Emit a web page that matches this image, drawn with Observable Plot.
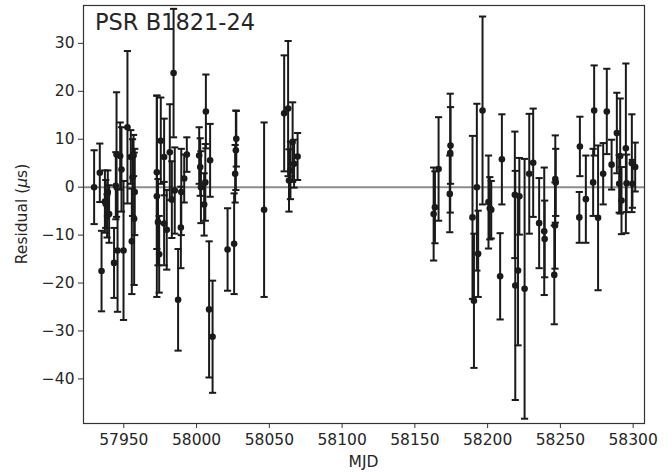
<!DOCTYPE html>
<html>
<head>
<meta charset="utf-8">
<script src="https://cdn.jsdelivr.net/npm/d3@7"></script>
<script src="https://cdn.jsdelivr.net/npm/@observablehq/plot@0.6"></script>
<style>
  html, body { margin: 0; padding: 0; background: #fff; }
  #chart { width: 672px; height: 472px; }
</style>
</head>
<body>
<div id="chart"></div>
<script>
const title = "PSR B1821-24";
const xLabel = "MJD";
const xTicks = [57950, 58000, 58050, 58100, 58150, 58200, 58250, 58300];
const yTicks = [-40, -30, -20, -10, 0, 10, 20, 30];

const mjd = [
  57929.6, 57933.5, 57934.7, 57937.0, 57937.6, 57938.5, 57939.0, 57939.9, 57943.3, 57944.5,
  57945.0, 57945.7, 57947.5, 57948.4, 57949.8, 57952.5, 57954.8, 57955.5, 57956.0, 57956.7,
  57957.1, 57957.5,
  57972.7, 57972.7, 57974.3, 57973.5, 57975.4, 57977.7, 57977.7, 57979.5, 57981.6, 57984.2,
  57983.0, 57985.0, 57987.3, 57989.2, 57989.5, 57991.5, 57993.3, 58001.8, 58002.5, 58003.0,
  58005.2, 58006.4, 58006.0, 58008.6, 58009.3, 58011.0,
  58021.3, 58025.8, 58026.5, 58027.0, 58027.3,
  58046.4,
  58060.2, 58062.9, 58063.5, 58064.5, 58066.0, 58067.0, 58069.4,
  58162.9, 58163.8, 58166.3, 58174.0, 58174.3, 58174.5,
  58189.6, 58190.6, 58192.6, 58193.5, 58196.5, 58200.6, 58201.5, 58202.5, 58208.6, 58209.8,
  58218.7, 58219.0, 58220.9, 58221.8, 58225.4, 58228.6, 58231.3, 58235.4, 58238.9, 58239.2,
  58245.8, 58246.3, 58246.5, 58246.8,
  58263.0, 58263.4, 58267.5, 58272.5, 58273.2, 58275.9, 58279.4, 58281.9, 58285.2, 58288.8,
  58290.4, 58291.1, 58292.0, 58295.0, 58295.5, 58299.1, 58299.5, 58301.4
];
const residual = [
  0.0, 3.0, -17.5, -3.0, -3.5, -6.0, -1.0, -5.6, -15.8, 0.3,
  6.8, -13.2, 6.5, 3.7, -13.2, 12.5, 6.3, -11.3, 2.0, 6.6,
  -6.6, -1.0,
  3.1, -1.9, -14.0, -7.3, 9.7, 6.3, -7.6, -8.9, 7.3, 23.8,
  -2.6, -0.7, -23.5, -8.4, -1.0, 1.8, 6.8, 6.6, 4.2, 0.0,
  -3.6, 15.8, 1.0, -25.5, 5.6, -31.2,
  -13.0, -11.8, 2.8, 7.7, 10.1,
  -4.7,
  15.4, 16.4, 1.4, 3.5, 9.4, 4.9, 6.4,
  -5.6, -4.2, 3.8, -1.4, 7.1, 8.7,
  -6.3, -23.7, 0.0, -13.9, 16.0, -3.1, -4.4, -4.7, -18.6, 5.8,
  -1.6, -20.5, -17.4, -1.9, -21.2, 2.8, 5.1, -7.5, -9.2, -10.8,
  -18.3, -8.0, 1.7, 1.0,
  -6.3, 8.5, -2.5, 1.0, 16.0, -6.4, 2.8, 15.8, 4.7, 11.3,
  0.7, 6.5, -2.8, 8.1, 0.8, 5.0, 0.7, 4.2
];
const error = [
  7.7, 6.1, 8.4, 6.5, 5.0, 4.5, 4.5, 6.0, 7.3, 7.0,
  13.0, 12.8, 7.0, 8.8, 14.5, 15.9, 5.6, 11.0, 8.0, 4.3,
  13.8, 9.0,
  16.0, 21.0, 8.0, 9.0, 9.0, 8.0, 8.7, 8.3, 10.0, 13.4,
  8.0, 9.0, 10.6, 8.5, 9.0, 5.0, 3.6, 5.9, 6.0, 7.5,
  6.5, 7.7, 8.0, 14.2, 7.6, 11.7,
  8.6, 10.5, 6.0, 8.3, 5.8,
  18.2,
  12.1, 14.1, 6.5, 6.0, 8.3, 5.0, 4.9,
  9.7, 7.5, 10.8, 8.0, 12.4, 8.0,
  17.0, 14.0, 17.4, 9.0, 19.6, 9.7, 6.5, 6.0, 9.0, 9.4,
  13.2, 23.9, 15.6, 8.0, 27.1, 12.5, 11.3, 9.4, 13.3, 8.0,
  10.3, 9.0, 9.1, 7.0,
  5.3, 6.2, 9.1, 7.0, 9.4, 15.1, 6.4, 8.9, 5.2, 8.4,
  6.0, 12.0, 7.0, 17.7, 6.0, 10.2, 5.0, 5.1
];

const data = mjd.map((m, i) => ({mjd: m, res: residual[i], err: error[i]}));

const ink = "#1a1a1a";
const textColor = "#262626";
const capSymbol = {
  draw(ctx, size) {
    const r = Math.sqrt(size / Math.PI);
    ctx.moveTo(-r, 0);
    ctx.lineTo(r, 0);
  }
};
const fmtY = d => d < 0 ? "\u2212" + Math.abs(d) : String(d);

const chart = Plot.plot({
  width: 672,
  height: 472,
  marginTop: 5,
  marginLeft: 83,
  marginRight: 28,
  marginBottom: 49,
  style: {fontFamily: "DejaVu Sans", fontSize: "15.5px", color: textColor, background: "#fff"},
  x: {domain: [57922.3, 58307.8]},
  y: {domain: [-49.3, 37.9]},
  marks: [
    Plot.ruleY([0], {stroke: "#8c8c8c", strokeWidth: 2}),
    Plot.ruleX(data, {x: "mjd", y1: d => d.res - d.err, y2: d => d.res + d.err, stroke: ink, strokeWidth: 2}),
    Plot.dot(data, {x: "mjd", y: d => d.res + d.err, symbol: capSymbol, r: 3.6, stroke: ink, strokeWidth: 2, fill: "none"}),
    Plot.dot(data, {x: "mjd", y: d => d.res - d.err, symbol: capSymbol, r: 3.6, stroke: ink, strokeWidth: 2, fill: "none"}),
    Plot.dot(data, {x: "mjd", y: "res", r: 3.3, fill: ink, stroke: "none"}),
    Plot.frame({stroke: "#333", strokeWidth: 1.2}),
    Plot.axisX({ticks: xTicks, tickFormat: d => String(d), tickSize: 5, tickPadding: 5, label: null, fontSize: 15.5, stroke: "#333"}),
    Plot.axisY({ticks: yTicks, tickFormat: fmtY, tickSize: 5, tickPadding: 4, label: null, fontSize: 15.5, stroke: "#333"})
  ]
});

document.getElementById("chart").appendChild(chart);

const svg = d3.select(chart);
svg.append("text")
  .attr("x", 95).attr("y", 30)
  .attr("text-anchor", "start")
  .attr("fill", textColor)
  .style("font-family", "DejaVu Sans").style("font-size", "22.5px")
  .text(title);
svg.append("text")
  .attr("x", (83 + 644) / 2).attr("y", 467)
  .attr("text-anchor", "middle")
  .attr("fill", textColor)
  .style("font-family", "DejaVu Sans").style("font-size", "15.5px")
  .text(xLabel);
const yl = svg.append("text")
  .attr("transform", "translate(27,214) rotate(-90)")
  .attr("text-anchor", "middle")
  .attr("fill", textColor)
  .style("font-family", "DejaVu Sans").style("font-size", "15.5px");
yl.append("tspan").text("Residual (");
yl.append("tspan").style("font-style", "italic").text("\u03bc");
yl.append("tspan").text("s)");
</script>
</body>
</html>
